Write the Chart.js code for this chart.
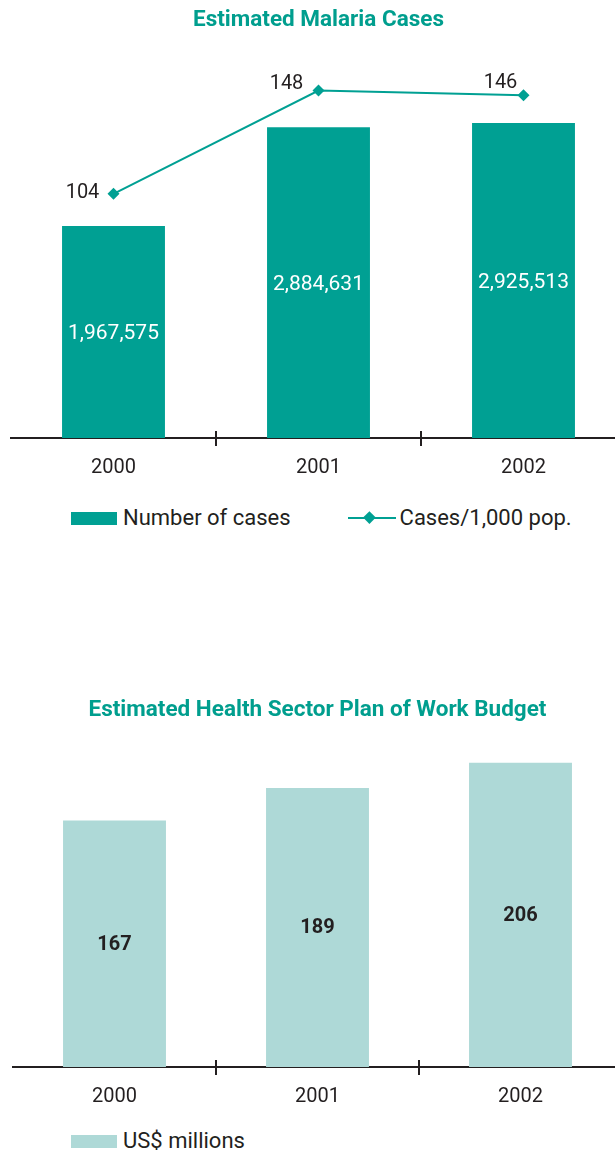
<!DOCTYPE html>
<html>
<head>
<meta charset="utf-8">
<script src="https://cdn.jsdelivr.net/npm/chart.js@4"></script>
<style>
  html, body { margin: 0; padding: 0; background: #fff; }
  body { width: 615px; height: 1154px; overflow: hidden; position: relative; font-family: Roboto, "Noto Sans", sans-serif; color: #231f20; }
  canvas { position: absolute; left: 0; }
  #casesChart { top: 0; }
  #budgetChart { top: 690px; }
  .legend { position: absolute; left: 71px; display: flex; align-items: center; font-size: 22px; line-height: 22px; white-space: nowrap; }
  .legend .box { width: 46px; height: 13px; margin-right: 6px; }
  .legend .item { display: flex; align-items: center; margin-right: 57px; }
  .legend svg { margin-right: 4px; }
</style>
</head>
<body>
<canvas id="casesChart" width="640" height="498"></canvas>
<canvas id="budgetChart" width="640" height="437"></canvas>

<div class="legend" style="top:507px">
  <div class="item"><div class="box" style="background:#00a093"></div>Number of cases</div>
  <div class="item">
    <svg width="48" height="14"><line x1="0" y1="7" x2="48" y2="7" stroke="#00a093" stroke-width="2"/><rect x="18" y="1" width="9" height="9" fill="#00a093" transform="rotate(45 22.5 5.5) translate(0 1.5)"/></svg>Cases/1,000 pop.
  </div>
</div>
<div class="legend" style="top:1130px">
  <div class="item"><div class="box" style="background:#aed9d7"></div>US$ millions</div>
</div>

<script>
const years = ['2000', '2001', '2002'];
const malariaCases = [1967575, 2884631, 2925513];
const casesPer1000 = [104, 148, 146];
const budgetMillions = [167, 189, 206];

const TEAL = '#00a093';
const LIGHT_TEAL = '#aed9d7';
const INK = '#231f20';
const FONT = 'Roboto, "Noto Sans", sans-serif';

// small crossing ticks between categories on the x axis
const axisTicks = {
    id: 'axisTicks',
    afterDraw(chart) {
        const x = chart.scales.x;
        const y = chart.chartArea.bottom;
        const ctx = chart.ctx;
        ctx.save();
        ctx.strokeStyle = INK;
        ctx.lineWidth = 2;
        for (let i = 1; i < years.length; i++) {
            const px = Math.round((x.getPixelForValue(i - 1) + x.getPixelForValue(i)) / 2);
            ctx.beginPath();
            ctx.moveTo(px, y - 7);
            ctx.lineTo(px, y + 8);
            ctx.stroke();
        }
        ctx.restore();
    }
};

// value text in the middle of each bar
const barValues = {
    id: 'barValues',
    afterDatasetsDraw(chart, args, opts) {
        const idx = chart.data.datasets.findIndex(d => (d.type || chart.config.type) === 'bar');
        const meta = chart.getDatasetMeta(idx);
        const ctx = chart.ctx;
        ctx.save();
        ctx.fillStyle = opts.color;
        ctx.font = opts.font;
        ctx.textAlign = 'center';
        ctx.textBaseline = 'middle';
        meta.data.forEach((bar, i) => {
            const v = chart.data.datasets[idx].data[i];
            ctx.fillText(v.toLocaleString('en-US'), bar.x, (bar.y + bar.base) / 2 + opts.shift);
        });
        ctx.restore();
    }
};

// labels beside the line points
const lineValues = {
    id: 'lineValues',
    afterDatasetsDraw(chart, args, opts) {
        const idx = chart.data.datasets.findIndex(d => d.type === 'line');
        if (idx < 0) return;
        const meta = chart.getDatasetMeta(idx);
        const ctx = chart.ctx;
        ctx.save();
        ctx.fillStyle = INK;
        ctx.font = '20px ' + FONT;
        ctx.textAlign = 'center';
        ctx.textBaseline = 'middle';
        meta.data.forEach((pt, i) => {
            const [dx, dy] = opts.offsets[i];
            ctx.fillText(String(chart.data.datasets[idx].data[i]), pt.x + dx, pt.y + dy);
        });
        ctx.restore();
    }
};

function xScale() {
    return {
        offset: true,
        grid: { display: false, drawTicks: false },
        border: { display: true, color: INK, width: 2 },
        ticks: { color: INK, padding: 18, font: { family: FONT, size: 20 } }
    };
}

function titleOpts(text) {
    return {
        display: true,
        text: text,
        color: '#009e8e',
        font: { family: FONT, size: 22.5, weight: 'bold' },
        padding: { top: 6.5, bottom: 26.5 }
    };
}

new Chart(document.getElementById('casesChart'), {
    type: 'bar',
    data: {
        labels: years,
        datasets: [
            {
                type: 'line', label: 'Cases/1,000 pop.', data: casesPer1000, yAxisID: 'y2', order: 0,
                borderColor: TEAL, borderWidth: 2, pointStyle: 'rectRot', pointRadius: 6,
                pointBackgroundColor: TEAL, pointBorderWidth: 0, clip: false
            },
            {
                type: 'bar', label: 'Number of cases', data: malariaCases, yAxisID: 'y', order: 1,
                backgroundColor: TEAL, barPercentage: 0.502, categoryPercentage: 1
            }
        ]
    },
    options: {
        responsive: false,
        animation: false,
        layout: { padding: { left: 11, right: 14 } },
        scales: {
            x: xScale(),
            y: { display: false, min: 0, max: 3510000 },
            y2: { display: false, min: 0, max: 161, position: 'right' }
        },
        plugins: {
            legend: { display: false },
            tooltip: { enabled: false },
            title: titleOpts('Estimated Malaria Cases'),
            barValues: { color: '#ffffff', font: '21px ' + FONT, shift: 2 },
            lineValues: { offsets: [[-31, -1], [-32, -7], [-23, -12]] }
        }
    },
    plugins: [axisTicks, barValues, lineValues]
});

new Chart(document.getElementById('budgetChart'), {
    type: 'bar',
    data: {
        labels: years,
        datasets: [{
            label: 'US$ millions', data: budgetMillions,
            backgroundColor: LIGHT_TEAL, barPercentage: 0.507, categoryPercentage: 1
        }]
    },
    options: {
        responsive: false,
        animation: false,
        layout: { padding: { left: 13, right: 18 } },
        scales: {
            x: xScale(),
            y: { display: false, min: 0, max: 214.7 }
        },
        plugins: {
            legend: { display: false },
            tooltip: { enabled: false },
            title: titleOpts('Estimated Health Sector Plan of Work Budget'),
            barValues: { color: INK, font: 'bold 20px ' + FONT, shift: 1 }
        }
    },
    plugins: [axisTicks, barValues]
});
</script>
</body>
</html>
